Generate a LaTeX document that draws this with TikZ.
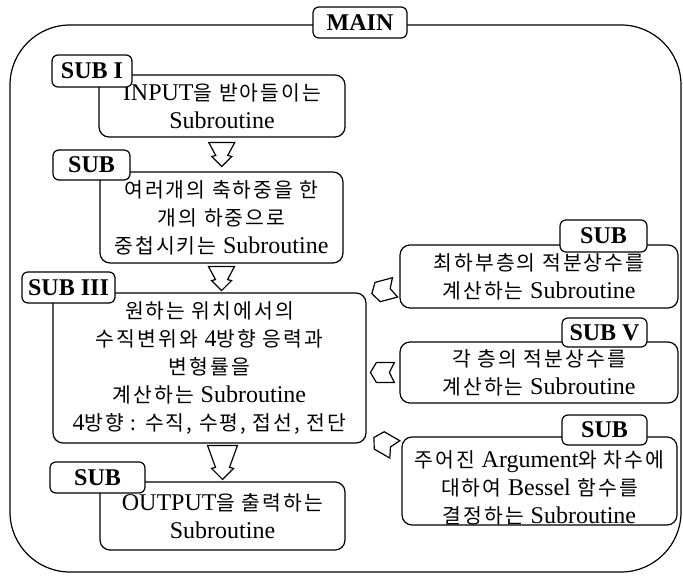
\documentclass[tikz,border=0pt]{standalone}
\usepackage{fontspec}
\setmainfont{Liberation Serif}
\newfontfamily\krfont[Scale=0.85, LetterSpace=10]{Noto Sans CJK KR}
\newcommand{\kor}[1]{{\krfont #1}}
\usetikzlibrary{calc}

\begin{document}
\begin{tikzpicture}[x = 0.5pt, y = -0.5pt, line width = 0.6pt,
    every node/.style = {font=\fontsize{12}{14}\selectfont},
    frame/.style = {draw, rounded corners=30pt, inner sep=0pt},
    box/.style   = {draw, rounded corners=5pt, align=center, inner sep=0pt},
    tag/.style   = {draw, fill=white, rounded corners=3pt, inner sep=0pt,
                    font=\fontsize{12}{14}\selectfont\bfseries},
    dnarrow/.pic    = {\draw (-13,-12) -- (13,-12) -- (6,1) -- (10,2) -- (0,12)
                             -- (-10,2) -- (-6,1) -- cycle;},
    bigdnarrow/.pic = {\draw (-15,-17) -- (15,-17) -- (7,5) -- (11,6) -- (0,17)
                             -- (-11,6) -- (-7,5) -- cycle;},
    tagarrow/.pic   = {\draw (-12,0) -- (-6,-10) -- (12,-10) -- (7,0) -- (12,10)
                             -- (-6,10) -- cycle;}]
    \useasboundingbox (0,0) rectangle (683,576);

    \node[frame, minimum width=335.5pt, minimum height=273.5pt] (main) at (345.5,298.5) {};

    \node[box, minimum width=123pt, minimum height=31pt]   (input)  at (222,106)
        {INPUT\kor{을 받아들이는}\\Subroutine};
    \node[box, minimum width=121.5pt, minimum height=45.5pt] (merge) at (221.5,217.5)
        {\kor{여러개의 축하중을 한}\\\kor{개의 하중으로}\\\kor{중첩시키는 }Subroutine};
    \node[box, minimum width=156.5pt, minimum height=75pt]  (calc)   at (209.5,368)
        {\kor{원하는 위치에서의}\\\kor{수직변위와 }4\kor{방향 응력과}\\\kor{변형률을}\\
         \kor{계산하는 }Subroutine\\4\kor{방향 : 수직, 수평, 접선, 전단}};
    \node[box, minimum width=122.5pt, minimum height=34pt] (output) at (222.5,516)
        {OUTPUT\kor{을 출력하는}\\Subroutine};
    \node[box, minimum width=139pt, minimum height=31.5pt]  (bottom) at (539,276.5)
        {\kor{최하부층의 적분상수를}\\\kor{계산하는 }Subroutine};
    \node[box, minimum width=139pt, minimum height=30.5pt]  (layer)  at (539,372.5)
        {\kor{각 층의 적분상수를}\\\kor{계산하는 }Subroutine};
    \node[box, minimum width=137.5pt, minimum height=44pt]  (bessel) at (539.5,481)
        {\rule{0pt}{15pt}\kor{주어진 }Argument\kor{와 차수에}\\\kor{대하여 }Bessel\kor{ 함수를}\\
         \kor{결정하는 }Subroutine};

    \node[tag, minimum width=47pt, minimum height=15.5pt]   (mainlbl) at (360,22.5)    {MAIN};
    \node[tag, minimum width=40pt, minimum height=16pt]     (sub1)    at (92,71)      {SUB I};
    \node[tag, minimum width=38.5pt, minimum height=15pt]   (sub2)    at (91.5,165)   {SUB};
    \node[tag, minimum width=46.5pt, minimum height=15.5pt] (sub3)    at (68.5,287.5) {SUB III};
    \node[tag, minimum width=47.5pt, minimum height=15.5pt] (sub4)    at (97.5,477.5) {SUB};
    \node[tag, minimum width=43.5pt, minimum height=16pt]   (sub5)    at (603.5,236)  {SUB};
    \node[tag, minimum width=42.5pt, minimum height=14.5pt] (sub6)    at (604.5,332.5) {SUB V};
    \node[tag, minimum width=42.5pt, minimum height=15pt]   (sub7)    at (604.5,430)  {SUB};

    \pic at ($(input.south)!0.5!(merge.north)$) {dnarrow};
    \pic at ($(merge.south)+(0,15)$)            {dnarrow};
    \pic at ($(output.north)+(0,-19)$)          {bigdnarrow};
    \pic[rotate=15]  at ($(bottom.west)+(-16,14)$)      {tagarrow};
    \pic             at ($(layer.west)+(-17,0)$)        {tagarrow};
    \pic[rotate=-30] at ($(bessel.north west)+(-17,7)$) {tagarrow};
\end{tikzpicture}
\end{document}
